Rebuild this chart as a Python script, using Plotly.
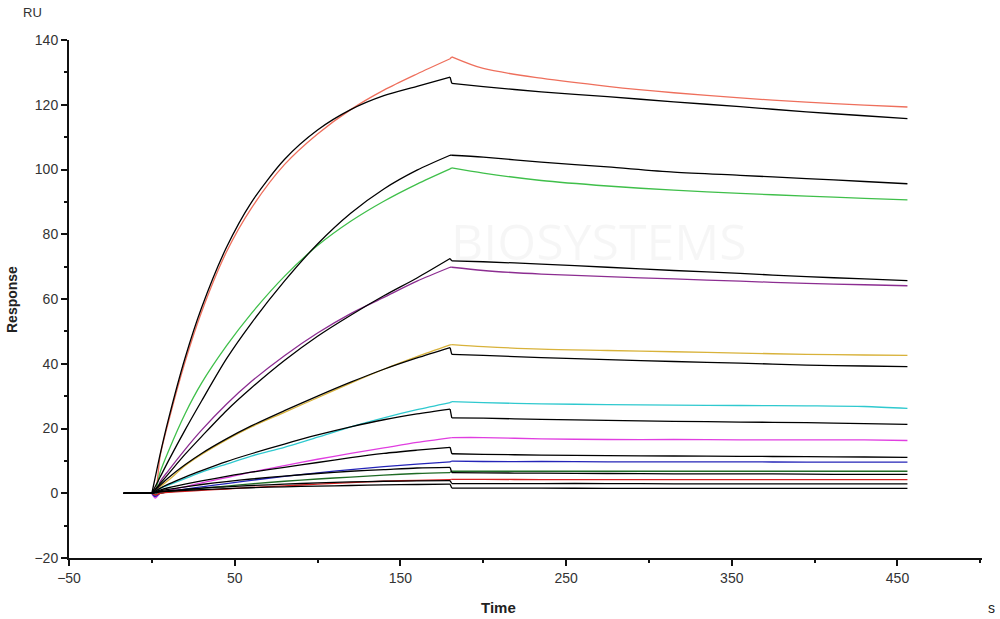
import plotly.graph_objects as go

# Time points (s)
t_base = [-17, 0]
t_assoc = [0, 2, 5, 10, 20, 30, 45, 60, 80, 100, 120, 140, 160, 180]
t_diss = [181, 200, 235, 275, 315, 355, 395, 430, 456]

# Measured (coloured) sensorgrams: association values, dissociation values
red_hi_a = [0, 0.5, 11.5, 22, 40.5, 56, 74.5, 88, 101.5, 111, 118.5, 124.5, 129.5, 134.2]
red_hi_d = [134.8, 131.2, 128.2, 125.7, 123.7, 122.1, 120.8, 119.9, 119.3]
green_a = [0, 0.5, 6.5, 13, 24.5, 34, 45.5, 55.5, 67, 76.5, 84, 90.2, 95.5, 100.2]
green_d = [100.5, 98.9, 96.6, 94.9, 93.6, 92.6, 91.8, 91.1, 90.6]
purple_a = [0, -1, 3.5, 7, 13.5, 19.5, 27.5, 34.5, 42.5, 49.5, 55.5, 60.5, 65.5, 69.8]
purple_d = [69.8, 68.8, 67.7, 66.9, 66.2, 65.5, 64.8, 64.4, 64.1]
gold_a = [0, -0.5, 2, 4, 8.5, 12, 16.5, 20.5, 25, 29.5, 34, 38.3, 42.2, 45.8]
gold_d = [45.9, 45.3, 44.5, 44.1, 43.7, 43.3, 42.9, 42.7, 42.6]
cyan_a = [0, -0.5, 1.5, 2.5, 4.5, 6.5, 9, 11.5, 14.2, 17.3, 20.5, 23.3, 25.8, 28]
cyan_d = [28.3, 28, 27.6, 27.4, 27.2, 27.1, 27.0, 26.8, 26.2]
magenta_a = [0, -1.5, 0, 0.8, 2, 3.2, 4.8, 6.5, 8.5, 10.5, 12.3, 14, 15.7, 17.1]
magenta_d = [17.2, 17.2, 16.8, 16.6, 16.6, 16.5, 16.5, 16.5, 16.3]
blue_a = [0, -1, 0, 0.5, 1.3, 2, 3, 4, 5.2, 6.3, 7.3, 8.2, 9, 9.7]
blue_d = [9.9, 9.8, 9.8, 9.7, 9.7, 9.7, 9.6, 9.6, 9.6]
dkgreen_a = [0, -0.5, 0, 0.4, 1, 1.5, 2.2, 2.9, 3.7, 4.4, 5, 5.6, 6.1, 6.4]
dkgreen_d = [6.8, 6.8, 6.8, 6.8, 6.8, 6.8, 6.8, 6.8, 6.8]
red_lo_a = [0, -0.5, 0, 0.3, 0.6, 0.9, 1.3, 1.8, 2.3, 2.8, 3.3, 3.7, 4, 4.2]
red_lo_d = [4.3, 4.3, 4.2, 4.2, 4.2, 4.2, 4.2, 4.2, 4.2]

# Fitted (black) curves
fit1_a = [0, 4.8, 12.0, 22.8, 41.7, 57.3, 75.9, 89.8, 103.1, 112.2, 118.5, 122.8, 125.7, 128.5]
fit1_d = [126.6, 125.6, 124.0, 122.5, 120.9, 119.4, 117.8, 116.6, 115.7]
fit2_a = [0, 2, 5, 10, 19.5, 28.5, 41.5, 52.5, 65.5, 77, 86.5, 94, 99.8, 104.4]
fit2_d = [104.4, 103.8, 102.3, 100.8, 99.2, 98.2, 97.2, 96.3, 95.6]
fit3_a = [0, 1.2, 3, 6, 12, 17.5, 25.5, 32.5, 41, 48.5, 55, 61, 66.5, 72.5]
fit3_d = [71.8, 71.5, 70.8, 69.8, 68.8, 67.9, 66.9, 66.2, 65.7]
fit4_a = [0, 1, 2.5, 4.8, 8.8, 12.3, 16.8, 20.8, 25.5, 30, 34.3, 38.3, 41.8, 45]
fit4_d = [42.9, 42.6, 41.9, 41.3, 40.7, 40.2, 39.6, 39.3, 39.1]
fit5_a = [0, 0.6, 1.5, 2.8, 5, 7, 9.8, 12.2, 15.2, 18, 20.5, 22.7, 24.5, 26]
fit5_d = [23.3, 23.2, 22.8, 22.5, 22.2, 22.0, 21.8, 21.5, 21.3]
fit6_a = [0, 0.4, 1, 1.7, 2.8, 3.8, 5.2, 6.5, 8, 9.5, 11, 12.3, 13.3, 14.2]
fit6_d = [12.2, 12.0, 11.8, 11.6, 11.5, 11.4, 11.3, 11.2, 11.1]
fit7_a = [0, 0.3, 0.7, 1.2, 2, 2.7, 3.6, 4.4, 5.3, 6.1, 6.8, 7.3, 7.8, 8]
fit7_d = [6.4, 6.3, 6.2, 6.1, 6.0, 6.0, 5.9, 5.8, 5.8]
fit8_a = [0, 0.2, 0.5, 0.8, 1.2, 1.6, 2, 2.4, 2.8, 3.2, 3.5, 3.7, 3.8, 3.9]
fit8_d = [3.0, 3.0, 3.0, 3.0, 2.9, 2.9, 2.9, 2.9, 2.9]
fit9_a = [0, 0.1, 0.4, 0.6, 0.9, 1.1, 1.4, 1.7, 2, 2.2, 2.4, 2.6, 2.7, 2.8]
fit9_d = [1.6, 1.6, 1.6, 1.5, 1.5, 1.5, 1.5, 1.5, 1.5]

colored = [
    (red_hi_a, red_hi_d, "#ee6f5c"),
    (green_a, green_d, "#3fbf4a"),
    (purple_a, purple_d, "#8c2d91"),
    (gold_a, gold_d, "#d8b23a"),
    (cyan_a, cyan_d, "#2fc9cf"),
    (magenta_a, magenta_d, "#e03ee0"),
    (blue_a, blue_d, "#2424b8"),
    (dkgreen_a, dkgreen_d, "#1f6b25"),
    (red_lo_a, red_lo_d, "#d42020"),
]
fits = [
    (fit1_a, fit1_d), (fit2_a, fit2_d), (fit3_a, fit3_d), (fit4_a, fit4_d),
    (fit5_a, fit5_d), (fit6_a, fit6_d), (fit7_a, fit7_d), (fit8_a, fit8_d),
    (fit9_a, fit9_d),
]

fig = go.Figure()


def add_curve(a, d, color):
    common = dict(mode="lines", showlegend=False, hoverinfo="skip")
    # baseline
    fig.add_trace(go.Scatter(x=t_base, y=[0, 0], line=dict(color=color, width=1.3), **common))
    # association phase
    fig.add_trace(go.Scatter(x=t_assoc, y=a, line=dict(color=color, width=1.3,
                                                        shape="spline", smoothing=0.8), **common))
    # injection end step
    fig.add_trace(go.Scatter(x=[t_assoc[-1], t_diss[0]], y=[a[-1], d[0]],
                             line=dict(color=color, width=1.3), **common))
    # dissociation phase
    fig.add_trace(go.Scatter(x=t_diss, y=d, line=dict(color=color, width=1.3,
                                                       shape="spline", smoothing=0.8), **common))


for a, d, c in colored:
    add_curve(a, d, c)
for a, d in fits:
    add_curve(a, d, "#000000")

font_family = "Arial, Liberation Sans, sans-serif"
axis_font = dict(family=font_family, size=14, color="#333333")
fig.update_layout(
    width=1000, height=619,
    margin=dict(l=69, r=18, t=40, b=61),
    paper_bgcolor="white", plot_bgcolor="white",
    xaxis=dict(range=[-50, 501], tick0=-50, dtick=100, showgrid=False, zeroline=False,
               showline=True, linecolor="#111111", linewidth=2,
               ticks="outside", ticklen=6, tickwidth=1.5, tickcolor="#111111",
               tickfont=axis_font,
               minor=dict(ticks="outside", ticklen=3, tickwidth=1.5, tickcolor="#111111",
                          tick0=0, dtick=100, showgrid=False)),
    yaxis=dict(range=[-20, 140], tick0=-20, dtick=20, showgrid=False, zeroline=False,
               showline=True, linecolor="#111111", linewidth=2,
               ticks="outside", ticklen=6, tickwidth=1.5, tickcolor="#111111",
               tickfont=axis_font,
               minor=dict(ticks="outside", ticklen=3, tickwidth=1.5, tickcolor="#111111",
                          tick0=-10, dtick=20, showgrid=False)),
)

pw, ph = 1000 - 69 - 18, 619 - 40 - 61


def px(xp):
    return (xp - 69) / pw


def py(yp):
    return 1 - (yp - 40) / ph


common_ann = dict(xref="paper", yref="paper", showarrow=False, xanchor="center", yanchor="middle")
fig.add_annotation(text="RU", x=px(32), y=py(13),
                   font=dict(family=font_family, size=13, color="#333333"), **common_ann)
fig.add_annotation(text="<b>Response</b>", textangle=-90, x=px(12), y=py(300),
                   font=dict(family=font_family, size=14, color="#222222"), **common_ann)
fig.add_annotation(text="<b>Time</b>", x=px(498), y=py(607),
                   font=dict(family=font_family, size=15, color="#222222"), **common_ann)
fig.add_annotation(text="s", x=px(992), y=py(608),
                   font=dict(family=font_family, size=14, color="#222222"), **common_ann)
fig.add_annotation(text="BIOSYSTEMS", xref="x", yref="y", x=270, y=78, showarrow=False,
                   font=dict(family="Open Sans, sans-serif", size=50, color="rgba(0,0,0,0.035)"))

fig.write_html("out.html")
